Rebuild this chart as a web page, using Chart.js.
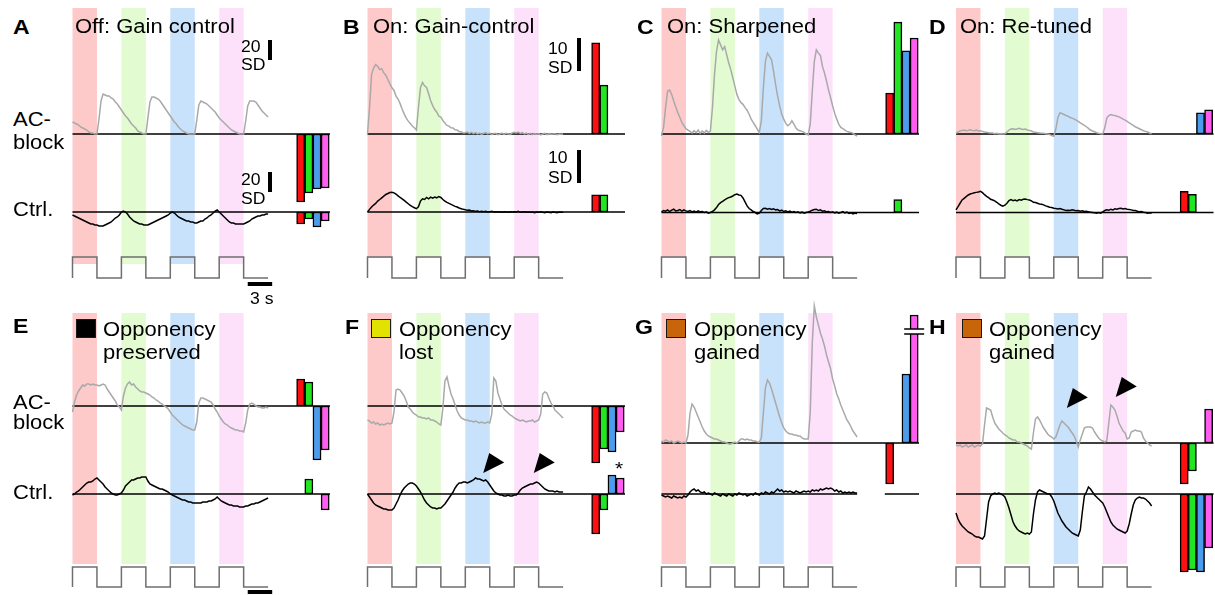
<!DOCTYPE html>
<html>
<head>
<meta charset="utf-8">
<script src="https://cdn.jsdelivr.net/npm/chart.js@4.4.1/dist/chart.umd.min.js"></script>
<style>
  html, body { margin: 0; padding: 0; background: #fff; width: 1215px; height: 595px; overflow: hidden; }
  #fig { position: relative; width: 1215px; height: 595px; font-family: "Liberation Sans", Arial, Helvetica, sans-serif; color: #000; }
  #fig canvas { position: absolute; }
  .t { position: absolute; white-space: nowrap; line-height: 1; transform-origin: 0 0; transform: scaleX(1.1); }
  .sw { position: absolute; box-sizing: border-box; border: 1.5px solid #1a1a1a; }
</style>
</head>
<body>
<div id="fig"></div>
<script>
// ---------- recorded responses (sampled every TRACE_STEP seconds, 0..24 s) ----------
const TRACE_STEP = 0.25;

// stimulus: light steps, 3 s on / 3 s off
const STIM_TIME  = [0, 0, 3, 3, 6, 6, 9, 9, 12, 12, 15, 15, 18, 18, 21, 21, 24];
const STIM_LEVEL = [0, 1, 1, 0, 0, 1, 1, 0, 0, 1, 1, 0, 0, 1, 1, 0, 0];
const STIM_ON = [0, 6, 12, 18];
const STIM_ON_DURATION = 3;
const STIM_NAMES = ['red', 'green', 'blue', 'UV'];

// summary bars, one per stimulus colour
const BAR_TIME = [28, 29, 30, 31];

// A  Off: gain control (SD)
const A_AC = [
  12, 11, 10, 9, 7, 6, 5, 4,
  2, 1, 1, 0, 0, 15, 33, 40,
  39, 38, 38, 36, 35, 32, 30, 27,
  24, 21, 18, 16, 13, 10, 8, 6,
  3, 2, 1, 0, 0, 16, 32, 37,
  37, 36, 35, 33, 30, 27, 24, 21,
  18, 15, 12, 10, 7, 5, 3, 2,
  1, 0, 0, 0, 0, 14, 29, 33,
  32, 31, 30, 28, 26, 24, 22, 19,
  16, 14, 12, 10, 8, 6, 4, 3,
  2, 1, 0, 0, 0, 13, 28, 33,
  33, 33, 32, 29, 26, 23, 21, 19,
  17];
const A_CTRL = [
  -3, -4, -5, -6, -7, -8, -9, -10,
  -11, -12, -12, -13, -13, -14, -14, -14,
  -13, -12, -11, -10, -8, -6, -5, -3,
  0, 1, 0, -2, -5, -7, -9, -10,
  -11, -12, -12, -13, -13, -13, -12, -11,
  -10, -9, -8, -7, -6, -5, -4, -3,
  -1, 0, -1, -3, -5, -6, -7, -8,
  -9, -9, -10, -10, -11, -11, -10, -9,
  -9, -7, -6, -4, -3, -1, 1, 2,
  0, -2, -4, -6, -8, -10, -11, -11,
  -12, -12, -12, -12, -12, -11, -10, -9,
  -7, -6, -5, -4, -4, -3, -3, -2,
  -2];
const A_BAR_AC = [-68, -59, -55, -54];
const A_BAR_CTRL = [-12, -7, -15, -9];

// B  On: gain-control (SD)
const B_AC = [
  0, 8, 18, 20, 21, 20.5, 19.5, 19.8,
  18.5, 17.8, 16.5, 15.2, 14, 13.2, 11.5, 10.6,
  9.2, 7.6, 6.1, 4.8, 3.9, 3.2, 2.4, 1.9,
  1.2, 8, 14, 15.6, 14.6, 14.1, 12.2, 10.1,
  8.6, 7.4, 6.6, 5.4, 5.1, 4.1, 3.3, 2.6,
  2.4, 1.9, 1.8, 1.3, 1.2, 0.7, 0.7, 0.3,
  0.4, 0.6, 0.2, 0.5, 0.1, 0.4, 0, 0.3,
  -0.1, 0.2, 0.4, 0, 0.3, -0.2, 0.1, 0.2,
  -0.2, 0, 0.3, -0.1, 0.2, 0.1, -0.2, 0.3,
  0.5, 0.3, 0.6, 0.2, 0.4, 0, 0.3, -0.1,
  0.2, -0.2, 0.1, -0.1, 0.1, -0.3, 0, 0.2,
  -0.2, 0.1, -0.1, 0, 0.1, -0.2, 0, -0.1,
  0];
const B_CTRL = [
  0, 0.8, 1.5, 2.1, 2.6, 3.3, 3.8, 4.3,
  4.8, 5.3, 5.6, 5.9, 6.0, 5.8, 5.4, 4.9,
  4.4, 4.0, 3.5, 3.0, 2.5, 2.0, 1.6, 1.3,
  1.0, 1.6, 3.3, 4.0, 3.8, 4.4, 4.0, 4.5,
  4.2, 4.5, 4.3, 4.7, 4.4, 3.8, 3.3, 2.9,
  2.6, 2.3, 2.0, 1.7, 1.5, 1.2, 1.0, 0.8,
  0.7, 0.5, 0.6, 0.3, 0.4, 0.2, 0.3, 0.1,
  0.2, 0.1, 0.2, 0, 0.1, 0.2, 0, 0.1,
  0, 0.1, -0.1, 0.1, 0, -0.1, 0.1, 0,
  0.1, 0, 0.2, -0.1, 0, 0.1, -0.1, 0,
  -0.1, 0, -0.2, 0, -0.1, 0.1, -0.1, -0.2,
  0, -0.1, -0.2, 0, -0.1, -0.2, 0, -0.1,
  -0.1];
const B_BAR_AC = [27.6, 14.8, 0, 0];
const B_BAR_CTRL = [5.2, 5.2, 0, 0];

// C  On: sharpened (SD)
const C_AC = [
  -0.6, 2, 8, 13, 13.3, 12, 10, 8.2,
  6.5, 5, 3.5, 2.5, 1.6, 1.2, 0.8, 0.3,
  1.0, 0.4, 1.2, 0.2, 0.9, 0.3, 1.1, 0.5,
  0.8, 8, 18, 25, 28.5, 27, 25.5, 26.5,
  24, 21.5, 19.5, 17, 14.5, 12, 10.5, 9.5,
  9, 8, 7.2, 6, 4.5, 3.5, 2.5, 1.5,
  0.5, 4, 14, 22, 24.5, 23.5, 22.5, 19,
  15, 11.5, 8.5, 6, 4.5, 3.2, 2.5, 3,
  4, 3, 1.8, 1.2, 1, 0.8, 0.5, 0,
  -0.3, 3, 13, 22, 25.5, 24.5, 23.8, 20.5,
  18.5, 16, 13.3, 11, 8.5, 6.3, 4.5, 3,
  2, 1.6, 1.2, 0.8, 0.6, 0.5, 0.2, -0.3,
  -0.6];
const C_CTRL = [
  0.2, 0.6, 0.4, 0.8, 0.3, 0.7, 1.0, 0.5,
  0.6, 0.9, 0.4, 0.8, 0.5, 0.3, 0.6, 0.2,
  0.4, 0.1, 0.5, 0.2, 0.3, 0, 0.2, -0.2,
  0, 0.3, 0.8, 1.5, 2.4, 3.0, 3.4, 3.8,
  4.2, 4.5, 4.7, 5.0, 5.4, 5.6, 5.3, 5.2,
  4.4, 3.2, 2.0, 1.2, 0.8, 0.3, 0, -0.4,
  -0.2, 0.6, 1.2, 1.3, 1.0, 1.2, 0.9, 1.1,
  0.8, 0.9, 0.5, 0.7, 0.3, 0.5, 0.2, 0.4,
  0.1, 0.3, 0, 0.2, -0.1, 0.1, -0.2, 0,
  0.2, 0.4, 0.7, 0.9, 1.0, 0.6, 0.8, 0.4,
  0.5, 0.2, 0.3, 0, 0.2, -0.1, 0.1, -0.2,
  0, 0.3, -0.1, 0.1, -0.3, -0.1, -0.4, -0.2,
  -0.3];
const C_BAR_AC = [12.4, 33.9, 25.2, 29.1];
const C_BAR_CTRL = [0, 3.9, 0, 0];

// D  On: re-tuned (SD)
const D_AC = [
  0.2, 0.6, 0.9, 1.1, 1.2, 1.0, 1.1, 1.3,
  1.1, 1.0, 1.2, 0.9, 1.0, 0.8, 0.6, 0.5,
  0.4, 0.3, 0.3, 0.1, 0.2, 0, 0.1, 0,
  0.1, 0.6, 1.2, 1.5, 1.6, 1.4, 1.5, 1.7,
  1.5, 1.4, 1.5, 1.2, 1.1, 0.9, 0.6, 0.5,
  0.4, 0.3, 0.2, 0.2, 0.1, 0, -0.2, -0.5,
  -0.7, 1.5, 5.0, 6.4, 6.2, 5.9, 5.6, 5.4,
  5.0, 4.8, 4.5, 4.2, 3.8, 3.4, 3.0, 2.6,
  2.2, 1.7, 1.2, 0.9, 0.7, 0.4, 0.2, 0.1,
  0, 1.8, 4.8, 5.6, 5.9, 5.7, 5.6, 5.4,
  5.2, 4.9, 4.5, 4.2, 3.8, 3.4, 3.0, 2.6,
  2.2, 1.9, 1.6, 1.3, 1.0, 0.8, 0.6, 0.3,
  0.1];
const D_CTRL = [
  0.8, 1.8, 2.8, 3.8, 4.3, 4.8, 5.3, 5.6,
  5.8, 6.0, 6.1, 6.2, 6.4, 6.0, 5.4, 4.9,
  4.5, 4.0, 3.8, 3.5, 3.1, 2.6, 2.2, 1.9,
  2.2, 2.8, 3.6, 3.9, 3.6, 3.8, 3.5, 3.9,
  3.7, 4.0, 4.1, 3.9, 3.8, 3.5, 3.1, 3.0,
  2.8, 2.6, 2.5, 2.3, 2.0, 1.8, 1.6, 1.5,
  1.3, 1.2, 1.1, 1.2, 1.0, 0.8, 0.6, 0.7,
  0.6, 0.8, 0.7, 0.5, 0.6, 0.4, 0.5, 0.3,
  0.4, 0.2, 0.1, 0, -0.1, -0.2, 0, -0.2,
  0.2, 0.6, 0.8, 0.7, 1.0, 0.8, 1.1, 1.0,
  1.2, 1.3, 1.1, 1.2, 1.0, 0.9, 0.8, 0.6,
  0.6, 0.4, 0.2, 0.3, 0.1, 0, -0.2, -0.1,
  -0.2];
const D_BAR_AC = [0, 0, 6.4, 7.3];
const D_BAR_CTRL = [6.4, 5.5, 0, 0];

// E  Opponency preserved (SD)
const E_AC = [
  -6, 4, 11, 15, 18, 21, 20, 22,
  22, 21, 22, 21, 21, 20, 21, 22,
  21, 17, 14, 11, 8, 5, 1, -1,
  -4, 10, 18, 22, 24, 21, 22, 19,
  17, 15, 14, 14, 13, 12, 11, 9,
  8, 6, 5, 3, 2, 0, -1, -3,
  -6, -9, -11, -13, -15, -17, -19, -20,
  -21, -22, -23, -24, -24, -16, 3, 8,
  8, 7, 6, 5, 4, 1, -3, -6,
  -10, -13, -16, -18, -19, -21, -22, -23,
  -24, -24, -25, -25, -26, -17, -4, 2,
  3, 2, 0, -1, -1, -2, -2, -1,
  -2];
const E_CTRL = [
  -1, 0, 2, 3, 5, 7, 9, 11,
  12, 12, 13, 15, 16, 14, 12, 10,
  7, 5, 3, 1, 0, -1, -1, 0,
  1, 4, 8, 10, 12, 14, 14, 15,
  16, 16, 17, 17, 17, 13, 10, 9,
  8, 7, 6, 5, 5, 4, 3, 2,
  0, -1, -2, -3, -4, -5, -6, -6,
  -7, -8, -8, -9, -9, -9, -9, -9,
  -8, -8, -8, -7, -7, -6, -5, -3,
  -5, -7, -8, -9, -10, -11, -11, -12,
  -12, -12, -13, -13, -13, -12, -12, -11,
  -10, -10, -9, -9, -8, -7, -6, -5,
  -4];
const E_BAR_AC = [27, 24, -54, -44];
const E_BAR_CTRL = [0, 15, 0, -16];

// F  Opponency lost (SD)
const F_AC = [
  -14, -15, -17, -16, -18, -17, -19, -18,
  -19, -18, -17, -18, -17, -6, 16, 17,
  16, 13, 10, 5, -1, -3, -6, -8,
  -9, -11, -11, -12, -12, -13, -12, -14,
  -14, -15, -16, -18, -19, -2, 25, 29,
  20, 12, 7, 1, -5, -9, -12, -13,
  -14, -14, -15, -15, -16, -15, -16, -17,
  -16, -17, -17, -16, -17, -8, 28, 25,
  13, 7, 1, -3, -5, -7, -9, -10,
  -12, -13, -14, -15, -14, -15, -16, -15,
  -15, -14, -16, -15, -14, -8, 12, 14,
  13, 8, 3, 0, -4, -6, -8, -10,
  -12];
const F_CTRL = [
  0, -3, -6, -9, -11, -12, -13, -14,
  -15, -15, -16, -16, -16, -14, -10, -6,
  -1, 3, 6, 8, 10, 11, 11, 10,
  8, 5, 2, -2, -6, -9, -11, -13,
  -14, -14, -15, -14, -14, -12, -10, -7,
  -4, -1, 2, 6, 9, 11, 11, 12,
  12, 11, 12, 13, 14, 16, 15, 15,
  14, 13, 14, 12, 9, 6, 3, 1,
  0, -1, -1, -2, -2, -1, -2, -2,
  -1, -1, 1, 4, 6, 7, 8, 9,
  10, 10, 11, 12, 11, 9, 7, 5,
  4, 3, 3, 3, 2, 3, 2, 2,
  2];
const F_BAR_AC = [-57, -43, -46, -26];
const F_BAR_CTRL = [-40, -16, 19, 16];

// G  Opponency gained (SD)
const G_AC = [
  2, 1, 3, 2, 1, 2, 0, 1,
  2, 1, 0, 1, 0, 8, 30, 39,
  36, 31, 26, 21, 16, 12, 9, 7,
  6, 5, 4, 4, 3, 2, 1, 1,
  0, -1, -1, 0, 1, 0, 2, 4,
  4, 3, 4, 3, 3, 2, 2, 1,
  1, 5, 30, 55, 63, 60, 54, 47,
  40, 33, 26, 20, 15, 12, 10, 9,
  9, 8, 8, 7, 7, 5, 4, 4,
  4, 30, 100, 137, 126, 118, 110, 104,
  97, 88, 81, 74, 64, 57, 49, 44,
  38, 33, 28, 23, 20, 16, 12, 9,
  6];
const G_CTRL = [
  -1, -2, -3, -2, -3, -4, -2, -3,
  -4, -3, -4, -2, -3, -1, 2, 4,
  5, 3, 4, 2, 1, 2, 0, 1,
  0, -1, 1, 0, -1, -2, 0, -1,
  -2, 0, -1, -2, 0, -1, 1, 0,
  -1, 0, -2, -1, 0, -1, 1, 0,
  -1, 1, 0, 2, 1, 0, 2, 1,
  3, 5, 3, 4, 2, 3, 2, 3,
  2, 1, 3, 2, 1, 2, 3, 2,
  3, 2, 4, 3, 4, 3, 5, 4,
  5, 6, 5, 6, 5, 3, 4, 2,
  3, 1, 2, 1, 2, 1, 2, 1,
  1];
const G_BAR_AC = [-41, 0, 69, 128];
const G_BAR_CTRL = [0, 0, 0, 0];

// H  Opponency gained (SD)
const H_AC = [
  -2, -3, -2, -4, -3, -2, -4, -3,
  -2, -4, -3, -2, -3, -1, 18, 35,
  34, 33, 26, 20, 17, 14, 12, 10,
  8, 7, 5, 4, 3, 3, 1, 1,
  0, -1, -2, -3, -5, -6, 10, 24,
  26, 23, 19, 15, 12, 9, 7, 6,
  4, 6, 12, 18, 22, 20, 18, 16,
  13, 10, 7, 2, -4, 3, 9, 15,
  16, 16, 16, 15, 11, 8, 5, 3,
  2, 1, 2, 20, 38, 36, 33, 27,
  20, 16, 12, 10, 4, 5, 11, 12,
  13, 12, 12, 11, 5, 2, 0, -2,
  -3];
const H_CTRL = [
  -19, -25, -29, -32, -34, -36, -38, -39,
  -40, -42, -43, -43, -44, -45, -42, -25,
  -8, -2, 0, 1, 0, 1, 0, -1,
  -3, -8, -14, -21, -28, -32, -35, -37,
  -38, -39, -40, -39, -40, -38, -20, -6,
  2, 4, 3, 2, 1, 0, 0, -3,
  -7, -13, -19, -23, -27, -30, -33, -35,
  -37, -39, -40, -41, -42, -36, -18, -2,
  2, 7, 5, 2, -1, -3, -5, -7,
  -9, -13, -18, -23, -28, -31, -33, -35,
  -36, -37, -38, -39, -37, -30, -20, -11,
  -6, -4, -3, -4, -4, -5, -7, -9,
  -12];
const H_BAR_AC = [-41, -28, 0, 34];
const H_BAR_CTRL = [-78, -76, -78, -54];

// ---------- styling ----------
const STRIPE_COLORS = ['#fec9c9', '#e3fbd1', '#c9e2fb', '#fde1fb'];
const BAR_COLORS = ['#ff1010', '#22e622', '#4c9cee', '#ff5cf0'];
const GREY_TRACE = '#a9a9a9';
const STIM_COLOR = '#6f6f6f';
const PX_PER_S = 8.15;

const fig = document.getElementById('fig');

// decorations drawn through the chart scales
const decorPlugin = {
  id: 'panelDecor',
  beforeDatasetsDraw(chart, args, o) {
    const ctx = chart.ctx, xs = chart.scales.x;
    ctx.save();
    STIM_ON.forEach((t, i) => {
      const x0 = xs.getPixelForValue(t), x1 = xs.getPixelForValue(t + STIM_ON_DURATION);
      ctx.fillStyle = STRIPE_COLORS[i];
      ctx.fillRect(x0, o.stripeTop - o.top, x1 - x0, o.stripeBottom - o.stripeTop);
    });
    ctx.strokeStyle = '#000';
    ctx.lineWidth = 1.7;
    o.baselines.forEach(b => {
      const y = chart.scales[b.axis].getPixelForValue(0);
      b.spans.forEach(([t0, t1]) => {
        ctx.beginPath();
        ctx.moveTo(xs.getPixelForValue(t0), y);
        ctx.lineTo(xs.getPixelForValue(t1), y);
        ctx.stroke();
      });
    });
    ctx.restore();
  },
  afterDatasetsDraw(chart, args, o) {
    const ctx = chart.ctx, xs = chart.scales.x;
    ctx.save();
    ctx.fillStyle = '#000';
    (o.scaleBars || []).forEach(s => {
      const ys = chart.scales[s.axis];
      const len = Math.abs(ys.getPixelForValue(s.value) - ys.getPixelForValue(0));
      ctx.fillRect(s.x - o.left, s.y - o.top, 4, len);
    });
    (o.timeBars || []).forEach(tb => {
      const x0 = xs.getPixelForValue(tb.t), x1 = xs.getPixelForValue(tb.t + tb.len);
      ctx.fillRect(x0, tb.y - o.top, x1 - x0, 4);
    });
    (o.arrows || []).forEach(a => {
      const x = xs.getPixelForValue(a.t), y = chart.scales[a.axis].getPixelForValue(a.v);
      ctx.beginPath();
      ctx.moveTo(x, y);
      ctx.lineTo(x + 6, y - 20);
      ctx.lineTo(x + 21, y - 10.5);
      ctx.closePath();
      ctx.fill();
    });
    if (o.breakMark) {
      const bm = o.breakMark, ys = chart.scales[bm.axis];
      const xc = xs.getPixelForValue(bm.t);
      const yLo = ys.getPixelForValue(bm.lo), yHi = ys.getPixelForValue(bm.hi);
      ctx.fillStyle = '#fff';
      ctx.fillRect(xc - 7, yHi, 14, yLo - yHi);
      ctx.strokeStyle = '#000';
      ctx.lineWidth = 1.5;
      [yLo, yHi].forEach(y => {
        ctx.beginPath();
        ctx.moveTo(xc - 10, y);
        ctx.lineTo(xc + 10, y);
        ctx.stroke();
      });
    }
    ctx.restore();
  }
};

function series(values) {
  return values.map((v, i) => ({ x: i * TRACE_STEP, y: v }));
}
function barSeries(values) {
  return BAR_TIME.map((t, i) => ({ x: t, y: values[i] }));
}

function panel(p) {
  const W = 276;
  const cv = document.createElement('canvas');
  cv.width = W; cv.height = p.h;
  cv.style.left = p.left + 'px'; cv.style.top = p.top + 'px';
  cv.style.width = W + 'px'; cv.style.height = p.h + 'px';
  fig.appendChild(cv);
  const bottom = p.top + p.h;
  const valueAxis = (base) => ({
    type: 'linear', display: false,
    min: -(bottom - base) / p.k, max: (base - p.top) / p.k
  });
  const stimUnit = p.stimLow - p.stimHigh;
  const bar = (values, axis) => ({
    type: 'bar', data: barSeries(values), yAxisID: axis,
    backgroundColor: BAR_COLORS, borderColor: '#000', borderWidth: 1.5,
    borderSkipped: false, grouped: false, barPercentage: 1, categoryPercentage: 1
  });
  const trace = (values, axis, color) => ({
    type: 'line', data: series(values), yAxisID: axis,
    borderColor: color, borderWidth: 1.5, pointRadius: 0, tension: 0, fill: false
  });
  new Chart(cv, {
    type: 'line',
    data: {
      datasets: [
        trace(p.ac, 'yAC', GREY_TRACE),
        trace(p.ctrl, 'yCt', '#000'),
        {
          type: 'line', data: STIM_TIME.map((t, i) => ({ x: t, y: STIM_LEVEL[i] })),
          yAxisID: 'yStim', borderColor: STIM_COLOR, borderWidth: 1.5, pointRadius: 0, tension: 0, fill: false
        },
        bar(p.barAC, 'yAC'),
        bar(p.barCtrl, 'yCt')
      ]
    },
    options: {
      responsive: false, animation: false, devicePixelRatio: 1, events: [],
      layout: { padding: 0 },
      plugins: {
        legend: { display: false }, tooltip: { enabled: false }, title: { display: false },
        panelDecor: {
          left: p.left, top: p.top,
          stripeTop: p.stripeTop, stripeBottom: p.stripeBottom,
          baselines: [
            { axis: 'yAC', spans: p.acSpans || [[0, 31.6]] },
            { axis: 'yCt', spans: p.ctSpans || [[0, 31.6]] }
          ],
          scaleBars: p.scaleBars, timeBars: p.timeBars, arrows: p.arrows, breakMark: p.breakMark
        }
      },
      scales: {
        x: {
          type: 'linear', display: false, offset: false,
          min: (p.left - p.t0) / PX_PER_S, max: (p.left + W - p.t0) / PX_PER_S,
          ticks: { stepSize: 5 }
        },
        yAC: valueAxis(p.acBase),
        yCt: valueAxis(p.ctBase),
        yStim: {
          type: 'linear', display: false,
          min: -(bottom - p.stimLow) / stimUnit, max: (p.stimLow - p.top) / stimUnit
        }
      }
    },
    plugins: [decorPlugin]
  });
}

const TOP = { top: 0, h: 300, stimHigh: 257, stimLow: 278, stripeTop: 8, stripeBottom: 258 };
const BOT = { top: 300, h: 295, stimHigh: 567, stimLow: 587, stripeTop: 313, stripeBottom: 564 };

panel(Object.assign({}, TOP, {
  left: 60, t0: 72.5, k: 1, acBase: 134, ctBase: 212, stripeBottom: 264,
  ac: A_AC, ctrl: A_CTRL, barAC: A_BAR_AC, barCtrl: A_BAR_CTRL,
  scaleBars: [{ axis: 'yAC', value: 20, x: 268, y: 40 }, { axis: 'yCt', value: 20, x: 268, y: 172 }],
  timeBars: [{ t: 21.5, len: 3, y: 282 }]
}));
panel(Object.assign({}, TOP, {
  left: 355, t0: 367.5, k: 3.3, acBase: 134, ctBase: 212,
  ac: B_AC, ctrl: B_CTRL, barAC: B_BAR_AC, barCtrl: B_BAR_CTRL,
  scaleBars: [{ axis: 'yAC', value: 10, x: 577, y: 38 }, { axis: 'yCt', value: 10, x: 577, y: 150 }]
}));
panel(Object.assign({}, TOP, {
  left: 649, t0: 661.5, k: 3.3, acBase: 134, ctBase: 212.5,
  ac: C_AC, ctrl: C_CTRL, barAC: C_BAR_AC, barCtrl: C_BAR_CTRL
}));
panel(Object.assign({}, TOP, {
  left: 944, t0: 956, k: 3.3, acBase: 134, ctBase: 212.5,
  ac: D_AC, ctrl: D_CTRL, barAC: D_BAR_AC, barCtrl: D_BAR_CTRL
}));
panel(Object.assign({}, BOT, {
  left: 60, t0: 72.5, k: 1, acBase: 406, ctBase: 494,
  ac: E_AC, ctrl: E_CTRL, barAC: E_BAR_AC, barCtrl: E_BAR_CTRL,
  timeBars: [{ t: 21.5, len: 3, y: 590 }]
}));
panel(Object.assign({}, BOT, {
  left: 355, t0: 367.5, k: 1, acBase: 406, ctBase: 494,
  ac: F_AC, ctrl: F_CTRL, barAC: F_BAR_AC, barCtrl: F_BAR_CTRL,
  arrows: [{ axis: 'yCt', t: 14.2, v: 21 }, { axis: 'yCt', t: 20.4, v: 21 }]
}));
panel(Object.assign({}, BOT, {
  left: 649, t0: 661.5, k: 1, acBase: 443, ctBase: 494,
  ac: G_AC, ctrl: G_CTRL, barAC: G_BAR_AC, barCtrl: G_BAR_CTRL,
  ctSpans: [[0, 24], [27.4, 31.6]],
  breakMark: { axis: 'yAC', t: 31, lo: 109, hi: 114 }
}));
panel(Object.assign({}, BOT, {
  left: 944, t0: 956, k: 1, acBase: 443, ctBase: 494,
  ac: H_AC, ctrl: H_CTRL, barAC: H_BAR_AC, barCtrl: H_BAR_CTRL,
  arrows: [{ axis: 'yAC', t: 13.6, v: 35 }, { axis: 'yAC', t: 19.6, v: 46 }]
}));

// ---------- text ----------
const LABELS = [
  ['A', 13, 15.5, 21, true], ['Off: Gain control', 75, 15.7, 20],
  ['B', 343, 15.5, 21, true], ['On: Gain-control', 372.7, 15.7, 20],
  ['C', 636.5, 15.5, 21, true], ['On: Sharpened', 666.7, 15.7, 20],
  ['D', 929, 15.5, 21, true], ['On: Re-tuned', 960, 15.7, 20],
  ['AC-', 12.7, 108.5, 20], ['block', 12.7, 132.4, 20], ['Ctrl.', 12.7, 199, 20],
  ['20', 240.7, 38.6, 16], ['SD', 240.7, 57.2, 16],
  ['20', 240.7, 172, 16], ['SD', 240.7, 191.2, 16],
  ['10', 548.3, 41.2, 16], ['SD', 548.3, 59.6, 16],
  ['10', 548.3, 149.6, 16], ['SD', 548.3, 169.6, 16],
  ['3 s', 250, 291, 16],
  ['E', 12.7, 315, 21, true], ['Opponency', 103.3, 318.9, 20], ['preserved', 103.3, 342.4, 20],
  ['AC-', 12.7, 392.4, 20], ['block', 12.7, 411.7, 20], ['Ctrl.', 12.7, 481.7, 20],
  ['F', 345, 315.7, 21, true], ['Opponency', 399.3, 318.9, 20], ['lost', 399.3, 342.4, 20],
  ['*', 614.5, 459, 19],
  ['G', 635, 315.5, 21, true], ['Opponency', 694.3, 318.9, 20], ['gained', 694.3, 342.4, 20],
  ['H', 929, 315.5, 21, true], ['Opponency', 989, 318.9, 20], ['gained', 989, 342.4, 20]
];
LABELS.forEach(([s, x, y, size, bold]) => {
  const d = document.createElement('div');
  d.className = 't';
  d.textContent = s;
  d.style.left = x + 'px';
  d.style.top = y + 'px';
  d.style.fontSize = size + 'px';
  if (bold) d.style.fontWeight = 'bold';
  fig.appendChild(d);
});

// legend swatches for the opponency classes
const SWATCHES = [
  [76, 318.5, '#000000'],
  [370.7, 319, '#e2e200'],
  [665.7, 319, '#c8650a'],
  [961.7, 319, '#c8650a']
];
SWATCHES.forEach(([x, y, c]) => {
  const d = document.createElement('div');
  d.className = 'sw';
  d.style.left = x + 'px';
  d.style.top = y + 'px';
  d.style.width = '20px';
  d.style.height = '19px';
  d.style.background = c;
  fig.appendChild(d);
});
</script>
</body>
</html>
